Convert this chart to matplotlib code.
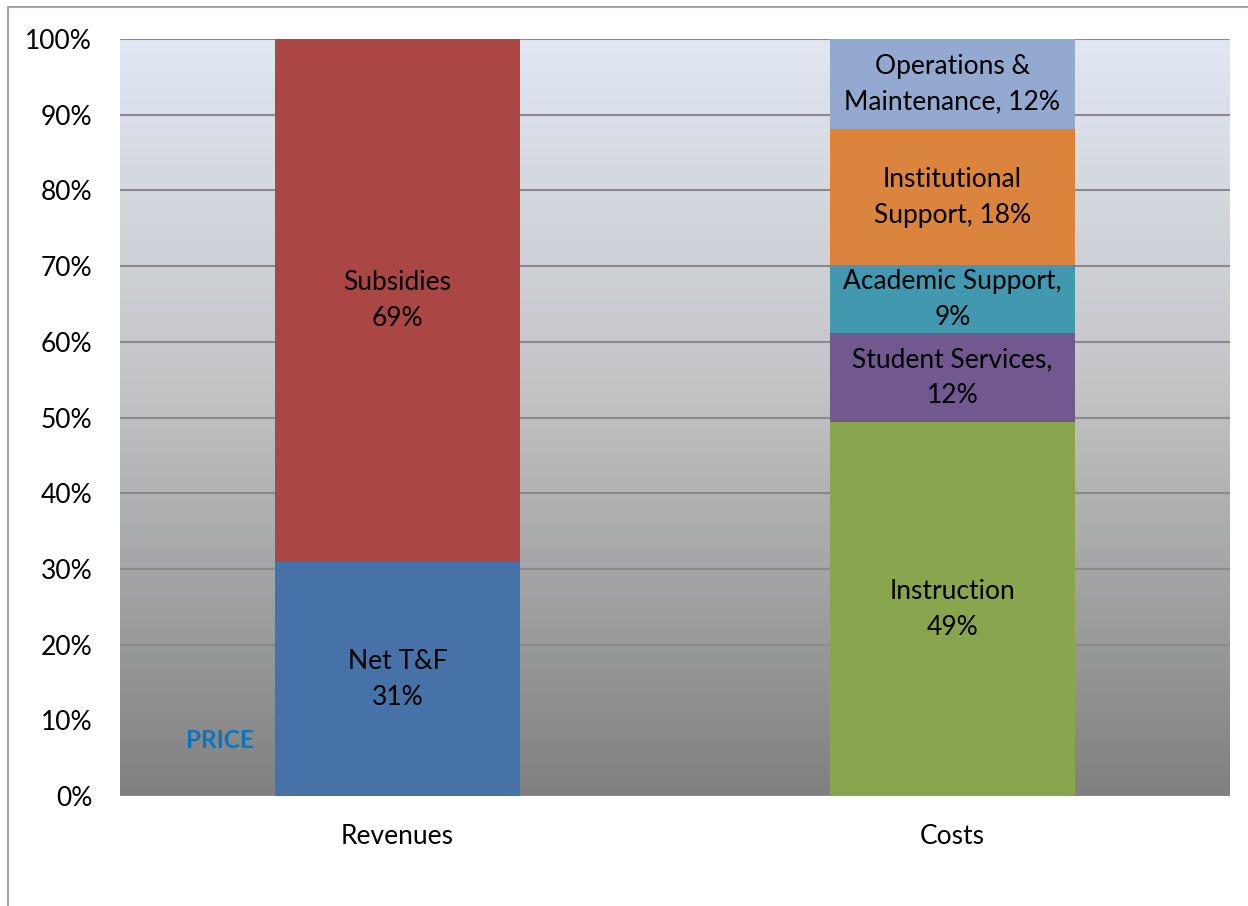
import numpy as np
import matplotlib.pyplot as plt
from matplotlib.colors import LinearSegmentedColormap
from matplotlib.lines import Line2D

plt.rcParams['font.family'] = ['Lato', 'DejaVu Sans']

categories = ['Revenues', 'Costs']

revenue_labels = ['Net T&F\n31%', 'Subsidies\n69%']
revenue_values = [30.9, 69.1]
revenue_colors = ['#4672a8', '#aa4644']

cost_labels = ['Instruction\n49%', 'Student Services,\n12%', 'Academic Support,\n9%',
               'Institutional\nSupport, 18%', 'Operations &\nMaintenance, 12%']
cost_values = [49.4, 11.7, 9.0, 18.0, 11.9]
cost_colors = ['#89a54e', '#71588f', '#4198af', '#db843d', '#93a9cf']

yticks = [0, 10, 20, 30, 40, 50, 60, 70, 80, 90, 100]

fig = plt.figure(figsize=(12.48, 9.06), dpi=100)
ax = fig.add_axes([120 / 1248, 1 - 796 / 906, 1110 / 1248, 757 / 906])

# gradient plot area, like the Excel chart
cmap = LinearSegmentedColormap.from_list(
    'bg', [(0.0, '#808080'), (0.55, '#c4c5c7'), (1.0, '#e0e7f3')])
grad = np.linspace(0, 1, 256).reshape(-1, 1)
ax.imshow(grad, cmap=cmap, origin='lower', aspect='auto',
          extent=[-0.5, 1.5, 0, 100], zorder=0)

ax.set_axisbelow(True)
ax.grid(axis='y', color='#8a8a8a', linewidth=1.5)

width = 0.44
stacks = [(0, revenue_values, revenue_labels, revenue_colors),
          (1, cost_values, cost_labels, cost_colors)]
for xpos, vals, labels, colors in stacks:
    bottom = 0
    for v, lab, c in zip(vals, labels, colors):
        ax.bar(xpos, v, width, bottom=bottom, color=c, zorder=2)
        ax.text(xpos, bottom + v / 2, lab, ha='center', va='center',
                fontsize=19, linespacing=1.55, zorder=3)
        bottom += v

ax.text(-0.32, 7.3, 'PRICE', color='#0a74c4', fontsize=17.5, fontweight='bold',
        ha='center', va='center', zorder=3)

ax.set_xlim(-0.5, 1.5)
ax.set_ylim(0, 100)
ax.set_xticks([0, 1])
ax.set_xticklabels(categories)
ax.set_yticks(yticks)
ax.set_yticklabels([f'{t}%' for t in yticks])
ax.tick_params(axis='both', length=0, labelsize=19)
ax.tick_params(axis='y', pad=20)
ax.tick_params(axis='x', pad=20)
for s in ax.spines.values():
    s.set_visible(False)

# chart frame (left and top edges visible)
fig.add_artist(Line2D([8 / 1248, 8 / 1248, 1.0], [0.0, 1 - 7 / 906, 1 - 7 / 906],
                      transform=fig.transFigure, color='#a6a6a6', linewidth=1.5))

fig.savefig('out.png', dpi=100)
